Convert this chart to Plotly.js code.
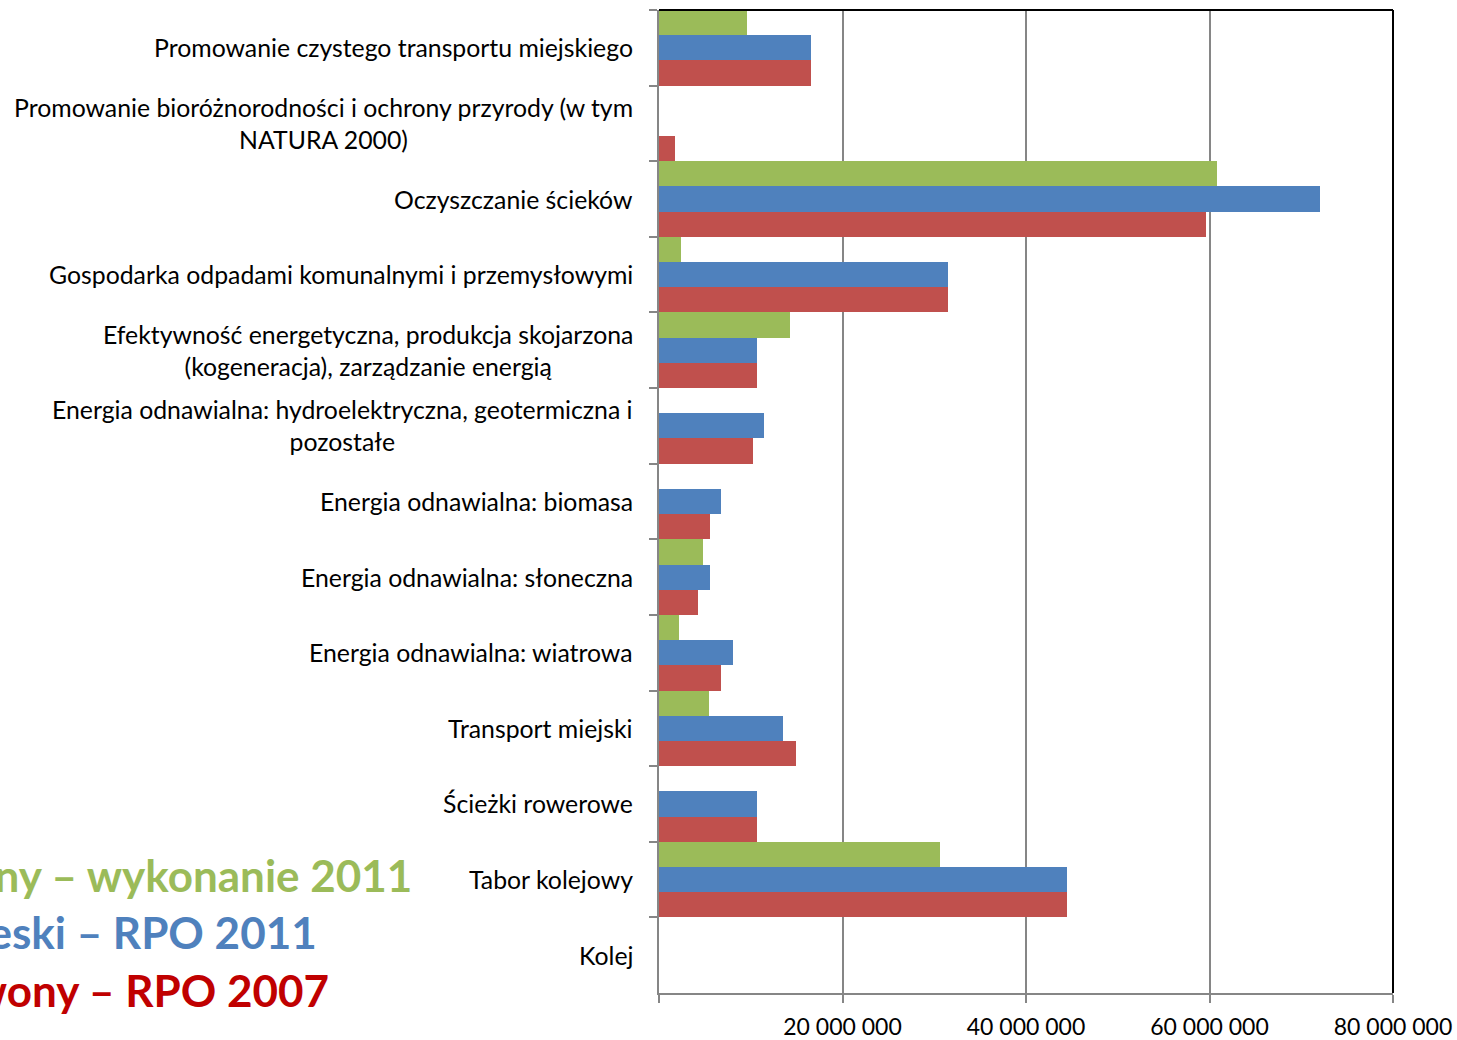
<!DOCTYPE html>
<html>
<head>
<meta charset="utf-8">
<script src="https://cdn.plot.ly/plotly-3.0.1.min.js"></script>
<style>html,body{margin:0;padding:0;background:#fff;}#chart{width:1457px;height:1040px;}</style>
</head>
<body>
<div id="chart"></div>
<script>
const categories = [
  "Promowanie czystego transportu miejskiego",
  "Promowanie bioróżnorodności i ochrony przyrody (w tym NATURA 2000)",
  "Oczyszczanie ścieków",
  "Gospodarka odpadami komunalnymi i przemysłowymi",
  "Efektywność energetyczna, produkcja skojarzona (kogeneracja), zarządzanie energią",
  "Energia odnawialna: hydroelektryczna, geotermiczna i pozostałe",
  "Energia odnawialna: biomasa",
  "Energia odnawialna: słoneczna",
  "Energia odnawialna: wiatrowa",
  "Transport miejski",
  "Ścieżki rowerowe",
  "Tabor kolejowy",
  "Kolej"
];
const categoryLabels = [
  "Promowanie czystego transportu miejskiego",
  "Promowanie bioróżnorodności i ochrony przyrody (w tym<br>NATURA 2000)",
  "Oczyszczanie ścieków",
  "Gospodarka odpadami komunalnymi i przemysłowymi",
  "Efektywność energetyczna, produkcja skojarzona<br>(kogeneracja), zarządzanie energią",
  "Energia odnawialna: hydroelektryczna, geotermiczna i<br>pozostałe",
  "Energia odnawialna: biomasa",
  "Energia odnawialna: słoneczna",
  "Energia odnawialna: wiatrowa",
  "Transport miejski",
  "Ścieżki rowerowe",
  "Tabor kolejowy",
  "Kolej"
];
const wykonanie2011 = [9600000, 0, 60800000, 2400000, 14300000, 0, 0, 4800000, 2200000, 5500000, 0, 30600000, 0];
const rpo2011 =       [16600000, 0, 72000000, 31500000, 10700000, 11400000, 6800000, 5600000, 8100000, 13500000, 10700000, 44500000, 0];
const rpo2007 =       [16600000, 1700000, 59600000, 31500000, 10700000, 10200000, 5600000, 4300000, 6800000, 14900000, 10700000, 44500000, 0];
const seriesNames = ["Zielony – wykonanie 2011", "Niebieski – RPO 2011", "Czerwony – RPO 2007"];
const tickValues = [0, 20000000, 40000000, 60000000, 80000000];
const tickLabels = ["", "20 000 000", "40 000 000", "60 000 000", "80 000 000"];

const FONT = "Lato, 'Open Sans', sans-serif";
const colors = ["#9BBB59", "#4F81BD", "#C0504D"];
const legendColors = ["#9BBB59", "#4F81BD", "#C00000"];
const data = [wykonanie2011, rpo2011, rpo2007].map((vals, i) => ({
  type: "bar", orientation: "h", y: categories, x: vals, name: seriesNames[i],
  marker: {color: colors[i], line: {width: 0}}, hoverinfo: "x+y"
}));

const annotations = categories.map((c, i) => ({
  xref: "paper", yref: "y", x: 0, y: c, xanchor: "right", yanchor: "middle",
  xshift: -24, text: categoryLabels[i], showarrow: false, align: "center",
  font: {family: FONT, size: 24.8, color: "#000"}
}));
const legendRight = [414, 319, 331];
const legendY = [875, 932, 990];
seriesNames.forEach((n, i) => {
  annotations.push({
    xref: "paper", yref: "paper", x: (legendRight[i] - 659) / 734, y: (993 - legendY[i]) / 983,
    xanchor: "right", yanchor: "middle", text: "<b>" + n + "</b>", showarrow: false,
    font: {family: FONT, size: 44, color: legendColors[i]}
  });
});

const layout = {
  width: 1457, height: 1040,
  margin: {l: 659, r: 64, t: 10, b: 47, pad: 0},
  paper_bgcolor: "#fff", plot_bgcolor: "#fff",
  barmode: "group", bargap: 0, bargroupgap: 0,
  showlegend: false,
  font: {family: FONT, size: 22, color: "#000"},
  xaxis: {
    range: [0, 80000000], tickvals: tickValues, ticktext: tickLabels,
    showgrid: true, gridcolor: "#868686", gridwidth: 2,
    showline: true, linecolor: "#868686", linewidth: 2,
    ticks: "outside", ticklen: 8, tickcolor: "#868686", tickwidth: 2,
    ticklabelstandoff: 4, zeroline: false,
    tickfont: {family: FONT, size: 23, color: "#000"}, fixedrange: true
  },
  yaxis: {
    type: "category", autorange: "reversed",
    showticklabels: false, tickson: "boundaries",
    ticks: "outside", ticklen: 8, tickcolor: "#868686", tickwidth: 2,
    showline: true, linecolor: "#868686", linewidth: 2,
    showgrid: false, zeroline: false, fixedrange: true
  },
  shapes: [
    {type: "line", xref: "paper", yref: "paper", x0: 0, x1: 1, y0: 1, y1: 1, line: {color: "#000", width: 2}},
    {type: "line", xref: "paper", yref: "paper", x0: 1, x1: 1, y0: 0, y1: 1, line: {color: "#000", width: 2}}
  ],
  annotations: annotations
};
Plotly.newPlot("chart", data, layout, {displayModeBar: false, staticPlot: true});
</script>
</body>
</html>
